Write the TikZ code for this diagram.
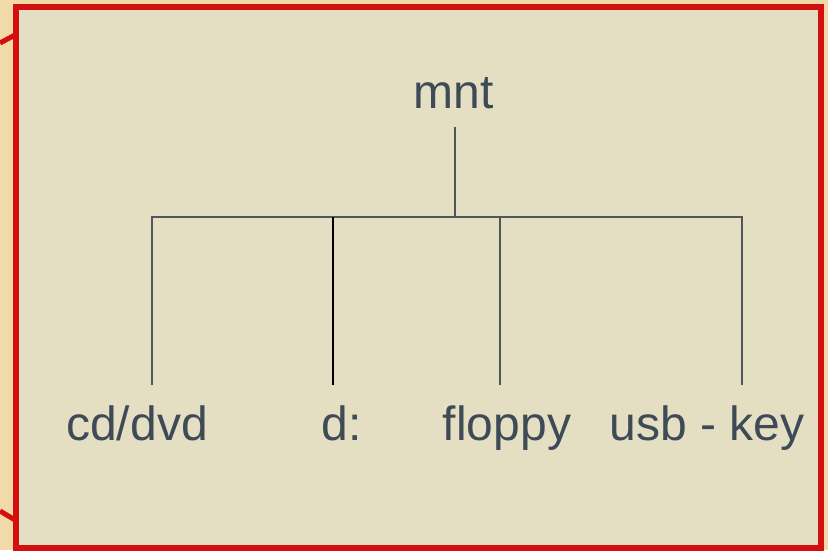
\documentclass[tikz,border=0pt]{standalone}
\usepackage{fontspec}
\setmainfont{Liberation Sans}
\usepackage{tikz}
\usetikzlibrary{positioning}

\definecolor{paper}{HTML}{F1DAA8}
\definecolor{board}{HTML}{E4DFC2}
\definecolor{frame}{HTML}{D40F0F}
\definecolor{ink}{HTML}{3E4B57}
\definecolor{wire}{HTML}{4F5558}

\tikzset{
  dirlabel/.style={anchor=base, text=ink, inner sep=0pt,
    font=\fontsize{48}{54}\selectfont},
  branch/.style={draw=wire, line width=1.9pt},
  blackbranch/.style={draw=black, line width=2.6pt},
}

\begin{document}
\begin{tikzpicture}[x=1pt, y=-1pt]
    \useasboundingbox (0,0) rectangle (828,550);
    \fill[paper] (0,0) rectangle (828,550);
    \draw[frame, line width=5pt] (0,43) -- (15,35);
    \draw[frame, line width=5pt] (0,511) -- (15,520);
    \draw[frame, fill=board, line width=6pt] (16,7) rectangle (821,548);

    % labels
    \node[dirlabel] (mnt) at (454,108) {mnt};
    \node[dirlabel] (cd) at (137,440) {cd/dvd};
    \node[dirlabel] (d) at (342,440) {d:};
    \node[dirlabel] (floppy) at (507,440) {floppy};
    \node[dirlabel] (usb) at (707,440) {usb - key};

    % tree
    \coordinate (top) at (455,127);
    \coordinate (hub) at (455,217);
    \coordinate (cdtop) at (152,217);
    \coordinate (dtop) at (333,217);
    \coordinate (floppytop) at (500,217);
    \coordinate (usbtop) at (742,217);
    \coordinate (cdend) at (152,385);
    \coordinate (dend) at (333,385);
    \coordinate (floppyend) at (500,385);
    \coordinate (usbend) at (742,385);

    \draw[branch] (top) -- (hub);
    \draw[branch] (cdend) -- (cdtop) -- (usbtop) -- (usbend);
    \draw[branch] (floppytop) -- (floppyend);
    \draw[blackbranch] (dtop) -- (dend);
\end{tikzpicture}
\end{document}
